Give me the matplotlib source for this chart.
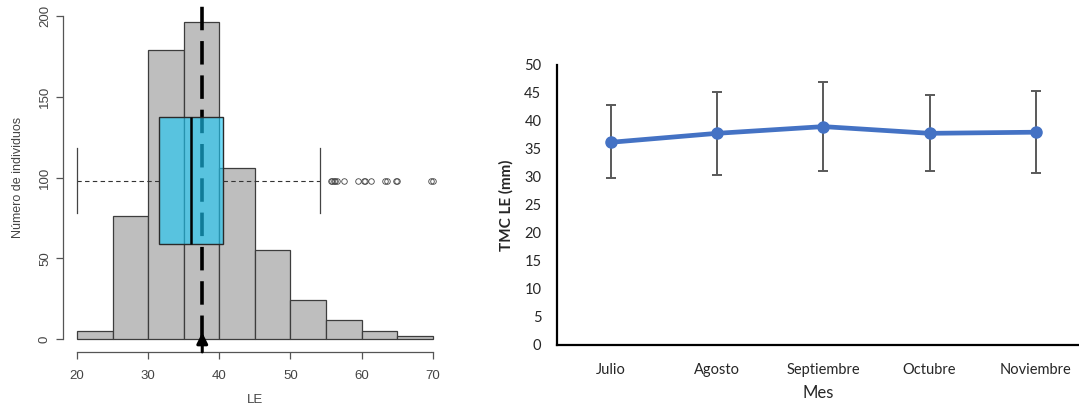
import matplotlib
matplotlib.use("Agg")
import matplotlib.pyplot as plt
import numpy as np

# ---------------- data: left panel (histogram of LE + boxplot) ----------------
bin_edges = [20, 25, 30, 35, 40, 45, 50, 55, 60, 65, 70]
bin_counts = [5, 76, 179, 196, 106, 55, 24, 12, 5, 2]
box_q1, box_median, box_q3 = 31.5, 36.0, 40.5
whisker_low, whisker_high = 20.0, 54.2
outliers = [55.7, 55.9, 56.1, 56.3, 56.6, 57.5, 59.5, 60.3, 60.5, 61.3,
            63.3, 63.5, 64.8, 65.0, 69.8, 70.0]
box_y_position = 98
le_mean = 37.6
x_ticks_left = [20, 30, 40, 50, 60, 70]
y_ticks_left = [0, 50, 100, 150, 200]

# ---------------- data: right panel (TMC LE by month) ----------------
months = ["Julio", "Agosto", "Septiembre", "Octubre", "Noviembre"]
tmc_mean = [36.2, 37.8, 39.0, 37.8, 38.0]
err_upper = [6.7, 7.4, 7.9, 6.9, 7.4]
err_lower = [6.4, 7.4, 7.9, 6.8, 7.2]
y_ticks_right = list(range(0, 51, 5))

W, H = 1079, 409
fig = plt.figure(figsize=(W / 100, H / 100), dpi=100)


def fx(px):
    return px / W


def fy(py):
    return 1 - py / H


# ---------------- left panel ----------------
axL = fig.add_axes([fx(62.8), fy(351.9), fx(447 - 62.8), (351.9 - 3.1) / H])
axL.set_xlim(18, 72)
axL.set_ylim(-8, 208)

widths = np.diff(bin_edges)
axL.bar(bin_edges[:-1], bin_counts, width=widths, align="edge",
        color="#bebebe", edgecolor="#3d3d3d", linewidth=0.9, zorder=1)

# mean dashed line (behind the semi-transparent box)
axL.plot([le_mean, le_mean], [0, 206], color="black", lw=2.6,
         dashes=(6.5, 3), zorder=2, clip_on=False)

stats = [dict(med=box_median, q1=box_q1, q3=box_q3,
              whislo=whisker_low, whishi=whisker_high, fliers=outliers)]
axL.bxp(stats, positions=[box_y_position], widths=[78.5], vert=False,
        patch_artist=True, showfliers=True, capwidths=[40.5],
        boxprops=dict(facecolor=(0.10, 0.78, 0.96, 0.62), edgecolor="#2a2a2a", lw=1.0),
        medianprops=dict(color="black", lw=1.8),
        whiskerprops=dict(color="#333333", lw=0.8, linestyle=(0, (4, 3))),
        capprops=dict(color="#444444", lw=0.9),
        flierprops=dict(marker="o", markersize=4, markerfacecolor="none",
                        markeredgecolor="#444444", markeredgewidth=0.6),
        manage_ticks=False, zorder=3)

# arrow under the mean
axL.annotate("", xy=(le_mean, 4), xytext=(le_mean, -8),
             arrowprops=dict(arrowstyle="-|>", color="black", lw=2.2,
                             mutation_scale=16, shrinkA=0, shrinkB=0),
             annotation_clip=False, zorder=5)

for s in ["top", "right"]:
    axL.spines[s].set_visible(False)
axL.spines["left"].set_bounds(0, 200)
axL.spines["bottom"].set_bounds(20, 70)
for s in ["left", "bottom"]:
    axL.spines[s].set_color("#555555")
    axL.spines[s].set_linewidth(0.9)
axL.set_xticks(x_ticks_left)
axL.set_yticks(y_ticks_left)
axL.set_yticklabels([str(v) for v in y_ticks_left], rotation=90, va="center")
axL.tick_params(colors="#555555", labelcolor="#444444", labelsize=9.5,
                length=5, width=0.9)
axL.tick_params(axis="x", pad=8)
for lab in axL.get_xticklabels() + axL.get_yticklabels():
    lab.set_family("Liberation Sans")
axL.set_xlabel("LE", color="#444444", fontsize=9.5, labelpad=9, family="Liberation Sans")
axL.set_ylabel("Número de individuos", color="#444444", fontsize=9,
               labelpad=11, family="Liberation Sans")
axL.set_facecolor("none")

# ---------------- right panel ----------------
axR = fig.add_axes([fx(556.7), fy(345), fx(W - 556.7), (345 - 65) / H])
x = np.arange(len(months))
axR.set_xlim(-0.511, 4.407)
axR.set_ylim(0, 50)
axR.errorbar(x, tmc_mean, yerr=[err_lower, err_upper], fmt="none",
             ecolor="#595959", elinewidth=1.4, capsize=3.8, capthick=1.4, zorder=2)
axR.plot(x, tmc_mean, color="#4472c4", lw=3.4, marker="o", markersize=8,
         zorder=3)

for s in ["top", "right"]:
    axR.spines[s].set_visible(False)
for s in ["left", "bottom"]:
    axR.spines[s].set_color("black")
    axR.spines[s].set_linewidth(1.6)
axR.set_xticks(x)
axR.set_xticklabels(months)
axR.set_yticks(y_ticks_right)
axR.tick_params(length=0, labelsize=10.5, labelcolor="#262626")
axR.tick_params(axis="x", pad=13)
axR.tick_params(axis="y", pad=11)
for lab in axR.get_xticklabels() + axR.get_yticklabels():
    lab.set_family("Lato")
axR.set_xlabel("Mes", fontsize=12, family="Lato", color="#262626", labelpad=6)
axR.set_ylabel("TMC LE (mm)", fontsize=11, family="Lato", color="#262626",
               labelpad=8, fontweight="bold")

fig.savefig("out.png", dpi=100)
